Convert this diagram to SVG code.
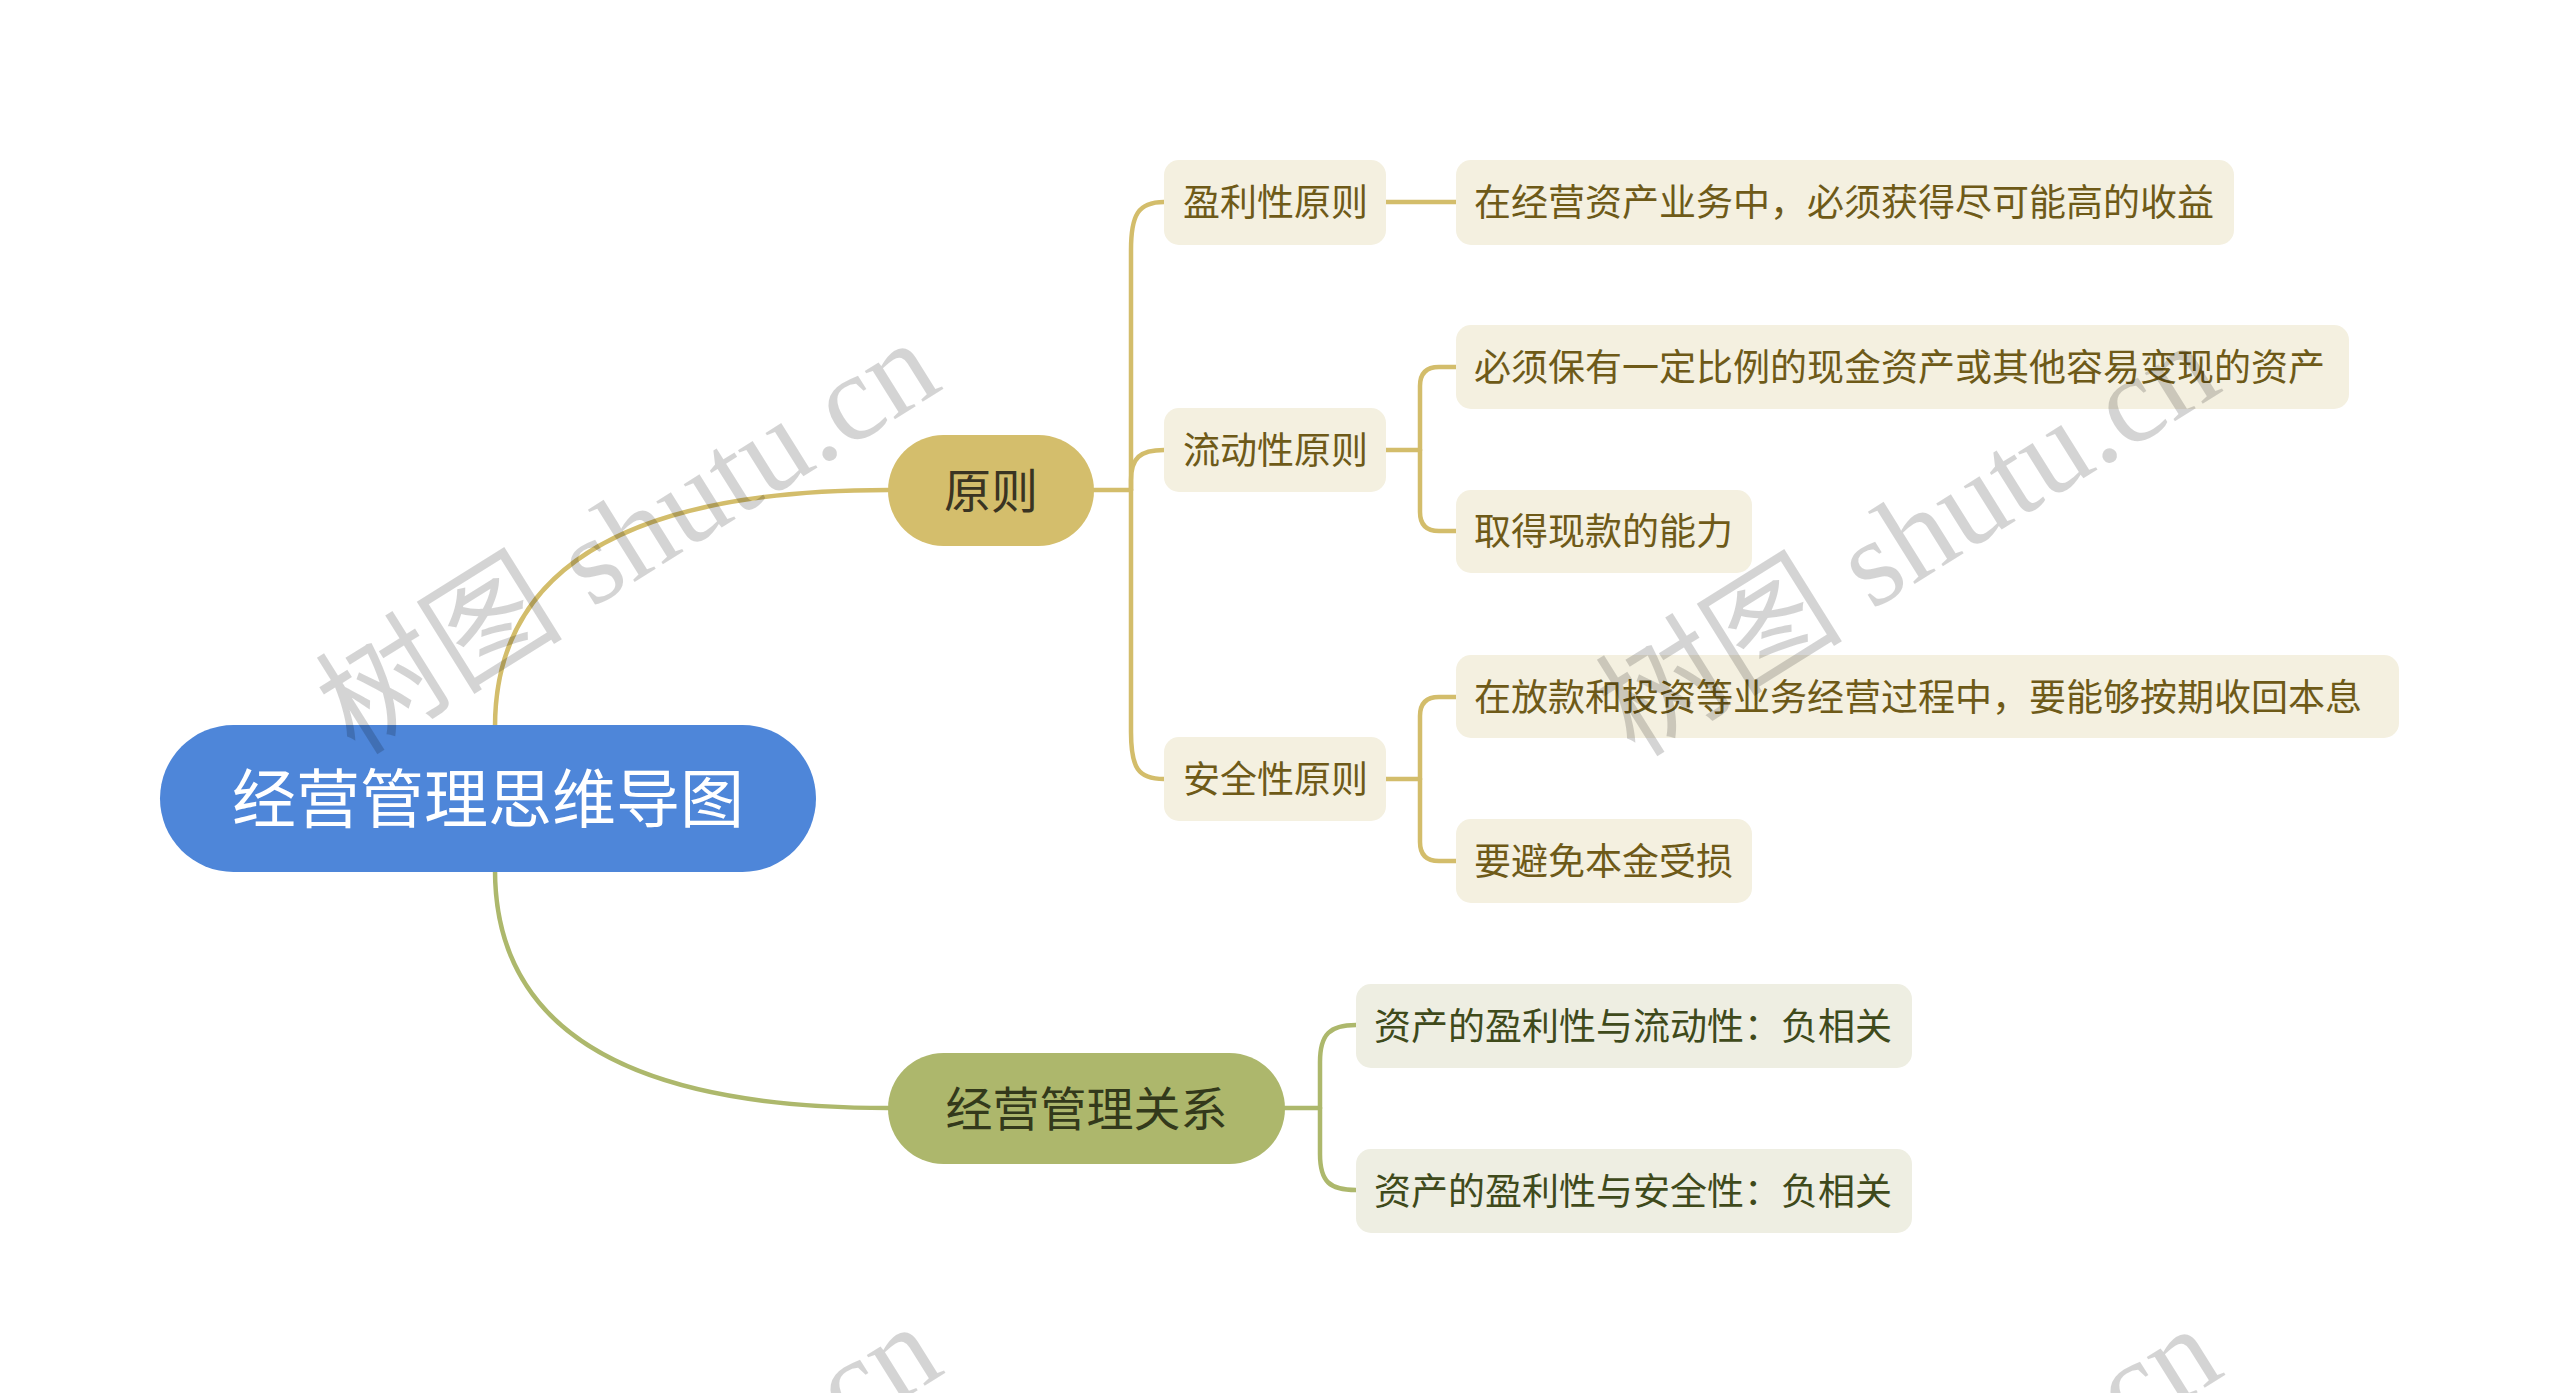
<svg xmlns="http://www.w3.org/2000/svg" width="2560" height="1393" viewBox="0 0 2560 1393">
<style>
.cjk{font-family:"Noto Sans CJK SC","Noto Sans",sans-serif;}
.gold{fill:none;stroke:#d3bd6b;stroke-width:4.5;stroke-linecap:round;}
.olive{fill:none;stroke:#adb86c;stroke-width:4.5;stroke-linecap:round;}
.cream{fill:#f4f0e0;}
.gcream{fill:#eeeee2;}
.ct{font-size:37px;fill:#6e5a18;}
.gt{font-size:37px;fill:#3f4a1b;}
.wm{font-family:"Liberation Serif","Noto Sans CJK SC",serif;font-size:124px;fill:#000;fill-opacity:0.17;}
</style>
<rect width="2560" height="1393" fill="#ffffff"/>
<g id="connectors">
<path class="gold" d="M495 727 Q495 490 888 490"/>
<path class="olive" d="M495 870 Q495 1108 888 1108"/>
<path class="gold" d="M1094 490 H1131"/>
<path class="gold" d="M1131 490 V250 C1131 215 1138 202 1164 202"/>
<path class="gold" d="M1131 490 V480 C1131 458 1140 450 1164 450"/>
<path class="gold" d="M1131 490 V732 C1131 768 1138 779 1164 779"/>
<path class="gold" d="M1386 202 H1456"/>
<path class="gold" d="M1386 450 H1420"/>
<path class="gold" d="M1420 450 V386 Q1420 367 1439 367 H1456"/>
<path class="gold" d="M1420 450 V512 Q1420 531 1439 531 H1456"/>
<path class="gold" d="M1386 779 H1420"/>
<path class="gold" d="M1420 779 V716 Q1420 697 1439 697 H1456"/>
<path class="gold" d="M1420 779 V842 Q1420 861 1439 861 H1456"/>
<path class="olive" d="M1285 1108 H1320"/>
<path class="olive" d="M1320 1108 V1062 C1320 1034 1330 1025 1356 1025"/>
<path class="olive" d="M1320 1108 V1154 C1320 1182 1330 1190 1356 1190"/>
</g>
<g id="root">
<rect x="160" y="725" width="656" height="147" rx="73.5" fill="#4e86d9"/>
<text class="cjk" x="488" y="822" text-anchor="middle" font-size="64" fill="#ffffff">经营管理思维导图</text>
</g>
<g id="n-yuanze">
<rect x="888" y="435" width="206" height="111" rx="55.5" fill="#d4be6c"/>
<text class="cjk" x="991" y="508" text-anchor="middle" font-size="47" fill="#3a3422">原则</text>
</g>
<g id="n-guanxi">
<rect x="888" y="1053" width="397" height="111" rx="55.5" fill="#adb76c"/>
<text class="cjk" x="1086.5" y="1126" text-anchor="middle" font-size="47" fill="#33391b">经营管理关系</text>
</g>
<g id="n-yingli">
<rect class="cream" x="1164" y="160" width="222" height="85" rx="15"/>
<text class="cjk ct" x="1183" y="216">盈利性原则</text>
</g>
<g id="n-liudong">
<rect class="cream" x="1164" y="408" width="222" height="84" rx="15"/>
<text class="cjk ct" x="1183" y="464">流动性原则</text>
</g>
<g id="n-anquan">
<rect class="cream" x="1164" y="737" width="222" height="84" rx="15"/>
<text class="cjk ct" x="1183" y="793">安全性原则</text>
</g>
<g id="n-yingli-1">
<rect class="cream" x="1456" y="160" width="778" height="85" rx="15"/>
<text class="cjk ct" x="1474" y="216">在经营资产业务中，必须获得尽可能高的收益</text>
</g>
<g id="n-liudong-1">
<rect class="cream" x="1456" y="325" width="893" height="84" rx="15"/>
<text class="cjk ct" x="1474" y="381">必须保有一定比例的现金资产或其他容易变现的资产</text>
</g>
<g id="n-liudong-2">
<rect class="cream" x="1456" y="490" width="296" height="83" rx="15"/>
<text class="cjk ct" x="1474" y="545">取得现款的能力</text>
</g>
<g id="n-anquan-1">
<rect class="cream" x="1456" y="655" width="943" height="83" rx="15"/>
<text class="cjk ct" x="1474" y="711">在放款和投资等业务经营过程中，要能够按期收回本息</text>
</g>
<g id="n-anquan-2">
<rect class="cream" x="1456" y="819" width="296" height="84" rx="15"/>
<text class="cjk ct" x="1474" y="875">要避免本金受损</text>
</g>
<g id="n-guanxi-1">
<rect class="gcream" x="1356" y="984" width="556" height="84" rx="15"/>
<text class="cjk gt" x="1374" y="1040">资产的盈利性与流动性：负相关</text>
</g>
<g id="n-guanxi-2">
<rect class="gcream" x="1356" y="1149" width="556" height="84" rx="15"/>
<text class="cjk gt" x="1374" y="1205">资产的盈利性与安全性：负相关</text>
</g>
<g id="watermarks">
<text class="wm" text-anchor="end" transform="translate(945 388) rotate(-32)">树图 shutu.cn</text>
<text class="wm" text-anchor="end" transform="translate(2225 390) rotate(-32)">树图 shutu.cn</text>
<text class="wm" text-anchor="end" transform="translate(947 1372) rotate(-32)">树图 shutu.cn</text>
<text class="wm" text-anchor="end" transform="translate(2227 1374) rotate(-32)">树图 shutu.cn</text>
</g>
</svg>
